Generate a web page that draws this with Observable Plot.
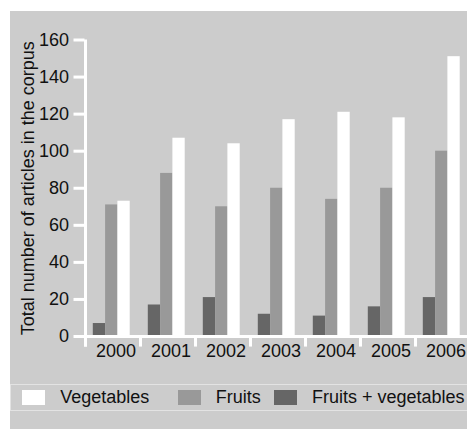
<!DOCTYPE html>
<html>
<head>
<meta charset="utf-8">
<script src="https://cdn.jsdelivr.net/npm/d3@7"></script>
<script src="https://cdn.jsdelivr.net/npm/@observablehq/plot@0.6"></script>
<style>
  body { margin: 0; background: #ffffff; font-family: "Liberation Sans", Arial, sans-serif; }
  #wrap { position: absolute; left: 10px; top: 11px; width: 457px; height: 418px; background: #cccccc; overflow: hidden; }
  #chart { position: absolute; left: 0; top: 0; width: 480px; height: 365px; }
  #chart svg { max-width: none !important; width: 480px !important; height: 365px !important; }
  #legend { position: absolute; left: 0; top: 373px; width: 480px; height: 25px; border: 1px solid #e3e3e3; }
  .item { position: absolute; top: 0; height: 25px; display: flex; align-items: center; font-size: 18px; color: #111; white-space: nowrap; }
  .sw { width: 23px; height: 15px; margin-right: 15px; }
</style>
</head>
<body>
<div id="wrap">
  <div id="chart"></div>
  <div id="legend"></div>
</div>
<script>
const years = ["2000", "2001", "2002", "2003", "2004", "2005", "2006"];
const series = ["Fruits + vegetables", "Fruits", "Vegetables"];
const fruitsVeg = [7, 17, 21, 12, 11, 16, 21];
const fruits = [71, 88, 70, 80, 74, 80, 100];
const vegetables = [73, 107, 104, 117, 121, 118, 151];
const colors = ["#666666", "#999999", "#ffffff"];
const yTicks = [0, 20, 40, 60, 80, 100, 120, 140, 160];
const yTitle = "Total number of articles in the corpus";

const seriesValues = [fruitsVeg, fruits, vegetables];
const rows = years.flatMap((yr, i) => series.map((s, j) => ({year: yr, series: s, value: seriesValues[j][i]})));

// bar placement inside each 55px year band (style only)
const insets = [[7.8, 34.9], [20.1, 22.6], [32.4, 10.3]];

const barMarks = series.map((s, j) =>
  Plot.barY(rows.filter(d => d.series === s), {
    x: "year", y: "value", fill: colors[j],
    insetLeft: insets[j][0], insetRight: insets[j][1]
  })
);

const chart = Plot.plot({
  width: 480,
  height: 365,
  marginLeft: 74.5,
  marginRight: 20.3,
  marginTop: 28.5,
  marginBottom: 40,
  x: {type: "band", domain: years, padding: 0},
  y: {domain: [0, 160]},
  style: {background: "transparent", fontFamily: "'Liberation Sans', Arial, sans-serif", fontSize: "18px", color: "#111", overflow: "visible"},
  marks: [
    ...barMarks,
    Plot.ruleY([0], {stroke: "white", strokeWidth: 3}),
    Plot.ruleX(years, {x: d => d, y1: 0, y2: -5.7, dx: -27.5, stroke: "white", strokeWidth: 3}),
    Plot.ruleX([years[0]], {x: d => d, y1: -5.7, y2: 160, dx: -27.5, stroke: "white", strokeWidth: 3}),
    Plot.axisY(yTicks, {tickSize: 11, tickPadding: 5, stroke: "white", strokeWidth: 3, fill: "#111", fontSize: 18, label: null}),
    Plot.axisX({tickSize: 0, tickPadding: 8, dx: 3, fill: "#111", fontSize: 18, label: null}),
    Plot.text([yTitle], {text: d => d, frameAnchor: "left", textAnchor: "middle", rotate: -90, dx: -51.5, lineAnchor: "bottom", fontSize: 18, fill: "#111"})
  ]
});
document.getElementById("chart").appendChild(chart);

// legend (reverse order of bars)
const legendOrder = [2, 1, 0];
const legendLeft = [11.3, 166.7, 263];
const legend = document.getElementById("legend");
legendOrder.forEach((j, k) => {
  const item = document.createElement("div");
  item.className = "item";
  item.style.left = legendLeft[k] + "px";
  const sw = document.createElement("span");
  sw.className = "sw";
  sw.style.background = colors[j];
  const label = document.createElement("span");
  label.textContent = series[j];
  item.appendChild(sw);
  item.appendChild(label);
  legend.appendChild(item);
});
</script>
</body>
</html>
